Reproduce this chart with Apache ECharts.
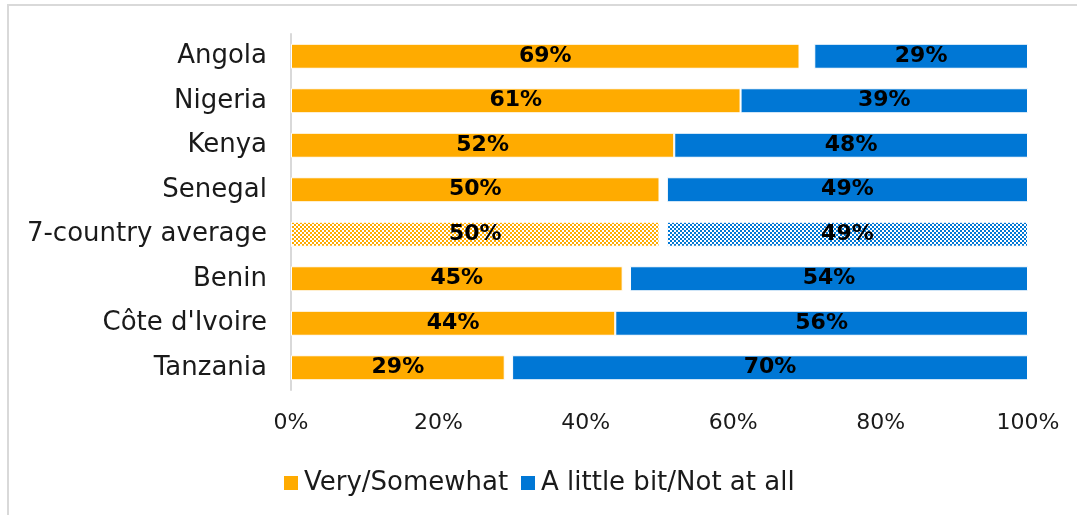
<!DOCTYPE html>
<html>
<head>
<meta charset="utf-8">
<script src="https://cdn.jsdelivr.net/npm/echarts@6/dist/echarts.min.js"></script>
<style>
  html, body { margin: 0; padding: 0; background: #fff; }
  #chart { width: 1078px; height: 515px; }
</style>
</head>
<body>
<div id="chart"></div>
<script>
// Countries listed top to bottom
const countries = ['Angola', 'Nigeria', 'Kenya', 'Senegal', '7-country average', 'Benin', "Côte d'Ivoire", 'Tanzania'];
// Share answering "Very/Somewhat" (%)
const verySomewhat = [69, 61, 52, 50, 50, 45, 44, 29];
// Share answering "A little bit/Not at all" (%)
const littleNotAtAll = [29, 39, 48, 49, 49, 54, 56, 70];
const xTicks = [0, 20, 40, 60, 80, 100];

const ORANGE = '#FFAB00';
const BLUE = '#0077D5';
const FONT = "'Century Gothic', 'URW Gothic', 'DejaVu Sans', sans-serif";
const AVG = '7-country average';
const TEXT = '#1a1a1a';

// category axis runs bottom-to-top, so reverse for top-down order
const cats = countries.slice().reverse();
const orangeVals = verySomewhat.slice().reverse();
const blueVals = littleNotAtAll.slice().reverse();
const gapVals = cats.map((c, i) => Math.max(0, 100 - orangeVals[i] - blueVals[i]));

// fine dotted fill used for the average row
function checker(color) {
  return {
    symbol: 'rect',
    symbolSize: 1,
    color: color,
    dashArrayX: [[2, 2], [0, 2, 2, 0]],
    dashArrayY: [2, 0],
    rotation: 0
  };
}

function barData(vals, color) {
  return vals.map((v, i) => {
    if (cats[i] === AVG) {
      return {
        value: v,
        itemStyle: { color: '#FFFFFF', decal: checker(color) }
      };
    }
    return { value: v };
  });
}

const labelStyle = {
  show: true,
  position: 'inside',
  formatter: p => p.value + '%',
  color: '#000',
  fontFamily: FONT,
  fontWeight: 'bold',
  fontSize: 22
};

const legendBase = {
  top: 465,
  icon: 'rect',
  itemWidth: 14,
  itemHeight: 14,
  itemStyle: { borderWidth: 0 },
  textStyle: { fontFamily: FONT, fontSize: 26, color: TEXT, padding: [0, 0, 0, 1] }
};

const chart = echarts.init(document.getElementById('chart'), null, { renderer: 'canvas' });
chart.setOption({
  animation: false,
  graphic: [
    { type: 'line', shape: { x1: 8, y1: 5, x2: 1077, y2: 5 }, style: { stroke: '#D9D9D9', lineWidth: 2 } },
    { type: 'line', shape: { x1: 8, y1: 4, x2: 8, y2: 515 }, style: { stroke: '#D9D9D9', lineWidth: 2 } }
  ],
  grid: { left: 291, right: 50, top: 34, bottom: 125 },
  legend: [
    Object.assign({ left: 279, data: ['Very/Somewhat'] }, legendBase),
    Object.assign({ left: 516, data: ['A little bit/Not at all'] }, legendBase)
  ],
  xAxis: {
    type: 'value',
    min: 0,
    max: 100,
    interval: 20,
    axisLine: { show: false },
    axisTick: { show: false },
    splitLine: { show: false },
    axisLabel: {
      formatter: v => v + '%',
      fontFamily: FONT,
      fontSize: 22,
      color: TEXT,
      margin: 22
    }
  },
  yAxis: {
    type: 'category',
    data: cats,
    axisLine: { show: true, lineStyle: { color: '#D9D9D9', width: 2 } },
    axisTick: { show: false },
    axisLabel: { fontFamily: FONT, fontSize: 26, color: TEXT, margin: 24 }
  },
  series: [
    {
      name: 'Very/Somewhat',
      type: 'bar',
      stack: 'total',
      barWidth: 25,
      itemStyle: { color: ORANGE, borderColor: '#fff', borderWidth: 1 },
      label: labelStyle,
      data: barData(orangeVals, ORANGE)
    },
    {
      name: 'gap',
      type: 'bar',
      stack: 'total',
      silent: true,
      itemStyle: { color: 'rgba(0,0,0,0)' },
      label: { show: false },
      data: gapVals
    },
    {
      name: 'A little bit/Not at all',
      type: 'bar',
      stack: 'total',
      itemStyle: { color: BLUE, borderColor: '#fff', borderWidth: 1 },
      label: labelStyle,
      data: barData(blueVals, BLUE)
    }
  ]
});
</script>
</body>
</html>
